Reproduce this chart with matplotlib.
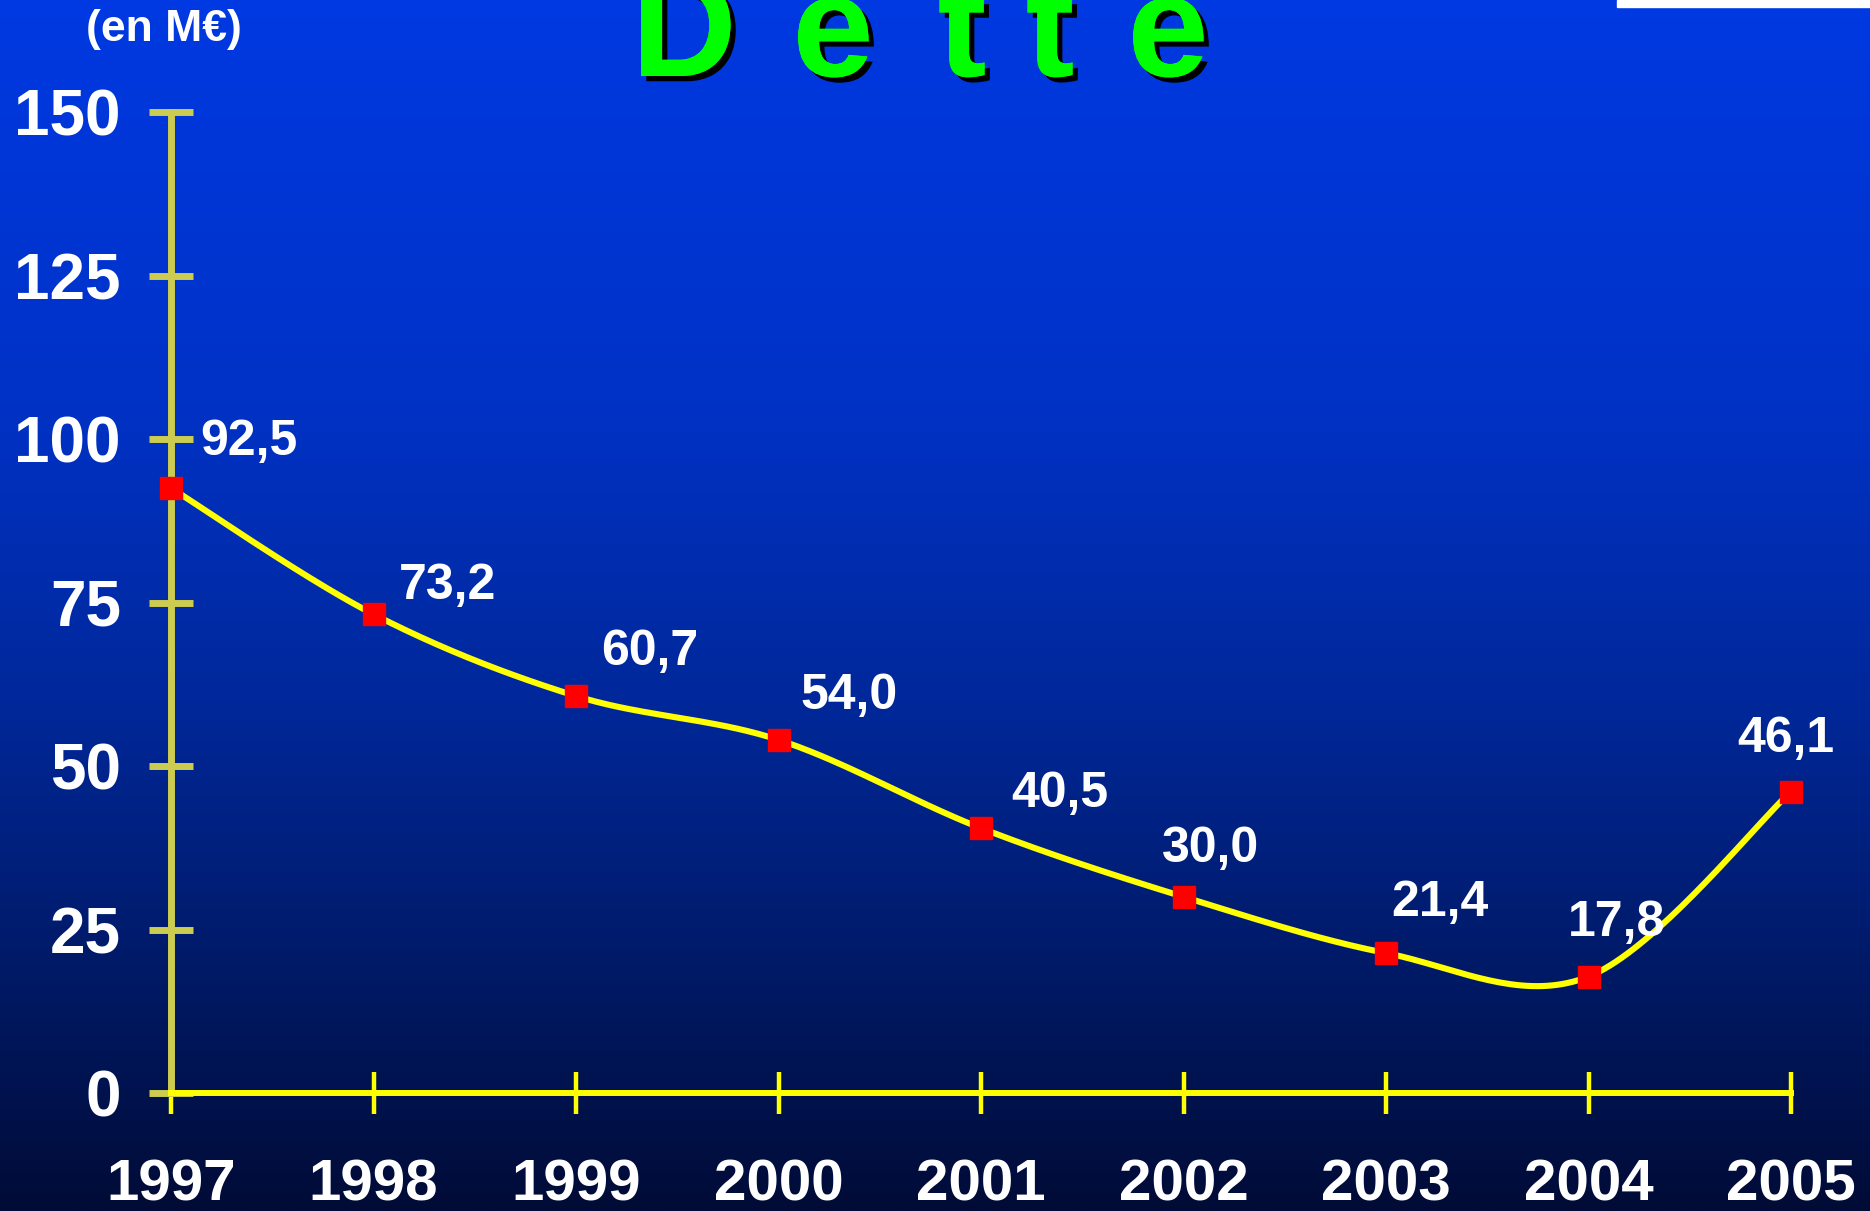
import numpy as np
import matplotlib
matplotlib.use("Agg")
import matplotlib.pyplot as plt
from matplotlib import font_manager
from matplotlib.colors import LinearSegmentedColormap
from matplotlib.patches import Rectangle
import matplotlib.patheffects as pe

# ---- data ----
years = [1997, 1998, 1999, 2000, 2001, 2002, 2003, 2004, 2005]
dette = [92.5, 73.2, 60.7, 54.0, 40.5, 30.0, 21.4, 17.8, 46.1]
value_labels = ["92,5", "73,2", "60,7", "54,0", "40,5", "30,0", "21,4", "17,8", "46,1"]
y_ticks = [0, 25, 50, 75, 100, 125, 150]
title_letters = list("Dette")
unit_label = "(en M€)"

# ---- layout (label offsets in reference pixels at 1568 width) ----
label_offsets = [(65, -39), (62, -24), (62, -37), (59, -37), (66, -29),
                 (23, -40), (45, -42), (24, -45), (-4, -44)]
title_centers_px = [684, 833, 962, 1050, 1168]

W, H = 1870, 1211
DPI = 100
fig = plt.figure(figsize=(W / DPI, H / DPI), dpi=DPI)

names = {f.name for f in font_manager.fontManager.ttflist}
narrow = "Liberation Sans Narrow" if "Liberation Sans Narrow" in names else "Liberation Sans"
bold = "Liberation Sans"

# background gradient
bg = fig.add_axes([0, 0, 1, 1], zorder=0)
cmap = LinearSegmentedColormap.from_list(
    "bg", [(0.0, "#0039E2"), (0.33, "#0032C6"), (0.58, "#00289A"),
           (0.83, "#001860"), (1.0, "#000B36")])
grad = np.linspace(0, 1, 512).reshape(-1, 1)
bg.imshow(grad, aspect="auto", cmap=cmap, extent=[0, 1, 0, 1], origin="upper")
bg.set_xlim(0, 1); bg.set_ylim(0, 1)
bg.axis("off")

# white strip top right
fig.patches.append(Rectangle((1617 / W, 1 - 7 / H), 1 - 1617 / W, 7 / H,
                             transform=fig.transFigure, color="white", zorder=1))

# main axes
x0, x1 = 171, 1791
y0, y1 = 1093, 112
ax = fig.add_axes([x0 / W, 1 - y0 / H, (x1 - x0) / W, (y0 - y1) / H], zorder=2)
ax.patch.set_alpha(0)
ax.set_xlim(1997, 2005)
ax.set_ylim(0, 150)

axis_yellow = "#cccc50"
for s in ["top", "right"]:
    ax.spines[s].set_visible(False)
ax.spines["left"].set_color(axis_yellow)
ax.spines["left"].set_linewidth(5)
ax.spines["bottom"].set_color("#ffff00")
ax.spines["bottom"].set_linewidth(4.3)
ax.spines["bottom"].set_zorder(3)

ax.set_yticks(y_ticks)
ax.set_yticklabels([str(v) for v in y_ticks])
ax.tick_params(axis="y", direction="inout", length=32, width=5, color=axis_yellow,
               pad=20, labelsize=46, labelcolor="white")
for t in ax.get_yticklabels():
    t.set_fontfamily(narrow); t.set_fontweight("bold")

ax.set_xticks(years)
ax.set_xticklabels([str(y) for y in years])
ax.tick_params(axis="x", direction="inout", length=30, width=3.2, color="#ffff00",
               pad=32, labelsize=42, labelcolor="white")
for t in ax.get_xticklabels():
    t.set_fontfamily(bold); t.set_fontweight("bold")

# smoothed line (Bezier with Catmull-Rom style control points, like Excel smoothing)
xs = np.array(years, float)
ys = np.array(dette, float)
n = len(xs)
px, py = [], []
tt = np.linspace(0, 1, 40)
for i in range(n - 1):
    p0 = np.array([xs[i], ys[i]]); p3 = np.array([xs[i + 1], ys[i + 1]])
    prev = np.array([xs[i - 1], ys[i - 1]]) if i > 0 else p0
    nxt = np.array([xs[i + 2], ys[i + 2]]) if i + 2 < n else p3
    c1 = p0 + (p3 - prev) / 6.0
    c2 = p3 - (nxt - p0) / 6.0
    b = ((1 - tt) ** 3)[:, None] * p0 + (3 * (1 - tt) ** 2 * tt)[:, None] * c1 \
        + (3 * (1 - tt) * tt ** 2)[:, None] * c2 + (tt ** 3)[:, None] * p3
    px.extend(b[:, 0]); py.extend(b[:, 1])
ax.plot(px, py, color="#ffff00", lw=4.4, zorder=4, clip_on=False, solid_capstyle="round")
ax.plot(xs, ys, ls="none", marker="s", ms=15.5, mfc="#ff0000", mec="#ff0000",
        zorder=5, clip_on=False)

scale = (W / 1568) * 72 / DPI
for x, y, lab, (dx, dy) in zip(years, dette, value_labels, label_offsets):
    ax.annotate(lab, (x, y), xytext=(dx * scale, -dy * scale), textcoords="offset points",
                ha="center", va="center", color="white", fontsize=36,
                fontfamily=bold, fontweight="bold", zorder=6, annotation_clip=False)

# unit label
fig.text(164 / W, 1 - 30 / H, unit_label, ha="center", va="center", color="white",
         fontsize=32, fontfamily=narrow, fontweight="bold")

# title with shadow
for ch, cx in zip(title_letters, title_centers_px):
    fig.text(cx / W, 1 - 76 / H, ch, ha="center", va="baseline", color="#00ff00",
             fontsize=105, fontfamily=bold, fontweight="bold", zorder=10,
             path_effects=[pe.withSimplePatchShadow(offset=(3.8, -3.8),
                                                     shadow_rgbFace="black", alpha=1.0),
                           pe.Normal()])

fig.savefig("out.png", dpi=DPI)
